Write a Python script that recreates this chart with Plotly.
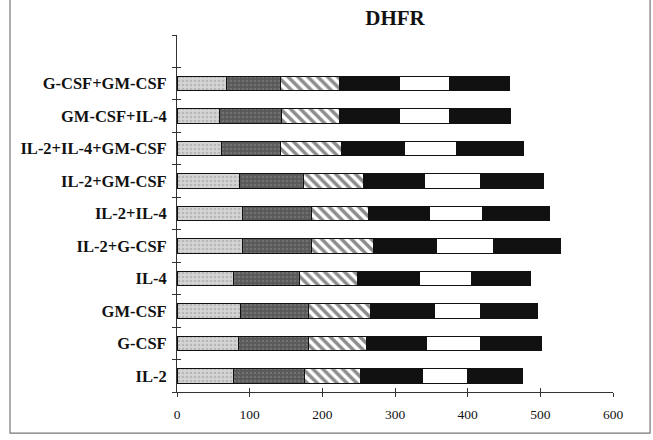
import plotly.graph_objects as go

categories = ["IL-2", "G-CSF", "GM-CSF", "IL-4", "IL-2+G-CSF", "IL-2+IL-4",
              "IL-2+GM-CSF", "IL-2+IL-4+GM-CSF", "GM-CSF+IL-4", "G-CSF+GM-CSF"]
seg1 = [78, 84, 88, 78, 90, 90, 86, 61, 58, 68]
seg2 = [98, 97, 93, 91, 95, 95, 88, 82, 86, 75]
seg3 = [77, 80, 85, 79, 86, 79, 82, 84, 79, 81]
seg4 = [85, 82, 88, 86, 86, 83, 85, 86, 83, 82]
seg5 = [62, 75, 63, 71, 79, 74, 76, 71, 69, 69]
seg6 = [76, 84, 79, 82, 92, 91, 88, 93, 84, 82]
x_ticks = [0, 100, 200, 300, 400, 500, 600]

series = [seg1, seg2, seg3, seg4, seg5, seg6]
styles = [
    dict(color="#d4d4d4", pattern=dict(shape=".", bgcolor="#d4d4d4", fgcolor="#9a9a9a", size=4, solidity=0.35)),
    dict(color="#595959", pattern=dict(shape=".", bgcolor="#595959", fgcolor="#8a8a8a", size=4, solidity=0.35)),
    dict(color="white", pattern=dict(shape="\\", bgcolor="white", fgcolor="#1a1a1a", size=7, solidity=0.5)),
    dict(color="#111111"),
    dict(color="white"),
    dict(color="#111111"),
]

fig = go.Figure()
for vals, st in zip(series, styles):
    marker = dict(color=st["color"], line=dict(color="#111111", width=1))
    if "pattern" in st:
        marker["pattern"] = st["pattern"]
    fig.add_trace(go.Bar(x=vals, y=categories, orientation="h", marker=marker,
                         showlegend=False, hoverinfo="x+y"))

n = len(categories)
yr = [-0.5, n + 0.5]
bounds = [i - 0.5 for i in range(n + 2)]
serif = "Liberation Serif"

fig.update_layout(
    width=653, height=440,
    margin=dict(l=177, r=40, t=35, b=48),
    paper_bgcolor="white", plot_bgcolor="white",
    barmode="stack", bargap=0.55,
    title=dict(text="<b>DHFR</b>", x=0.5, xref="paper", y=1 - 17.5 / 440,
               yref="container", yanchor="middle", xanchor="center",
               font=dict(family=serif, size=21, color="#111111")),
    xaxis=dict(range=[0, 600], tickvals=x_ticks, ticks="outside", ticklen=4,
               tickcolor="#333", showline=True, linecolor="#333", linewidth=1,
               showgrid=False, zeroline=False, ticklabelstandoff=6,
               tickfont=dict(family=serif, size=13.5, color="#111111")),
    xaxis2=dict(range=[0, 600], overlaying="x", tickvals=x_ticks, ticks="inside",
                ticklen=4, tickcolor="#333", showticklabels=False, showgrid=False,
                zeroline=False, side="bottom", anchor="y"),
    yaxis=dict(type="category", categoryorder="array", categoryarray=categories,
               range=yr, ticks="", showline=True, linecolor="#333", linewidth=1,
               showgrid=False, zeroline=False, ticklabelstandoff=6,
               tickfont=dict(family=serif, size=16.5, color="#111111", weight="bold")),
    yaxis2=dict(range=yr, overlaying="y", tickvals=bounds, ticks="outside", ticklen=4,
                tickcolor="#333", showticklabels=False, showgrid=False,
                zeroline=False, side="left", anchor="x"),
    yaxis3=dict(range=yr, overlaying="y", tickvals=bounds, ticks="inside", ticklen=4,
                tickcolor="#333", showticklabels=False, showgrid=False,
                zeroline=False, side="left", anchor="x"),
)
fig.add_shape(type="rect", xref="paper", yref="paper", x0=-0.383, x1=1.085,
              y0=-0.115, y1=1.2, line=dict(color="#777777", width=1.2),
              fillcolor="rgba(0,0,0,0)", layer="below")
# invisible traces to activate overlay axes
fig.add_trace(go.Scatter(x=[0], y=[0], xaxis="x2", yaxis="y2", mode="markers",
                         marker=dict(opacity=0), showlegend=False, hoverinfo="skip"))
fig.add_trace(go.Scatter(x=[0], y=[0], xaxis="x2", yaxis="y3", mode="markers",
                         marker=dict(opacity=0), showlegend=False, hoverinfo="skip"))

fig.write_html("out.html", config={"displayModeBar": False},
               post_script="document.body.style.margin='0px';")
